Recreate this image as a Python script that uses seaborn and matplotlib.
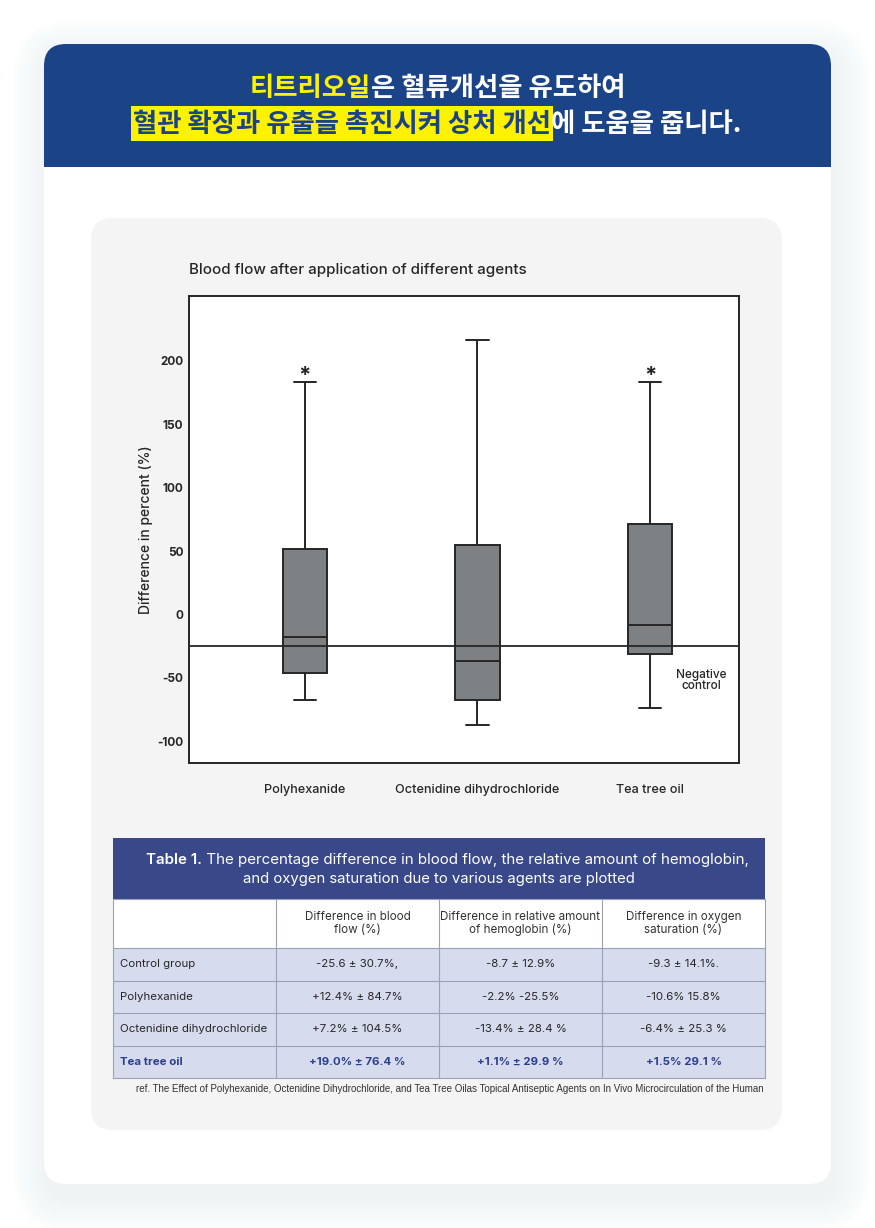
import numpy as np
import pandas as pd
import matplotlib.pyplot as plt
import seaborn as sns
from matplotlib.patches import FancyBboxPatch, Rectangle

# headline pieces: (text, colour, highlight colour)
headline_top = [("티트리오일", "#fff200", None), ("은 혈류개선을 유도하여", "#ffffff", None)]
headline_bottom = [("혈관 확장과 유출을 촉진시켜 상처 개선", "#1a4388", "#fff200"),
                   ("에 도움을 줍니다.", "#ffffff", None)]

# box plot values
agents = ["Polyhexanide", "Octenidine dihydrochloride", "Tea tree oil"]
whisker_low = [-67, -87, -74]
q1 = [-46, -67, -31]
median = [-18, -37, -8]
q3 = [52, 55, 71]
whisker_high = [183, 216, 183]
significant = [True, False, True]
negative_control = -25
y_ticks = [-100, -50, 0, 50, 100, 150, 200]

# table
table_title_bold = "Table 1."
table_title_rest = " The percentage difference in blood flow, the relative amount of hemoglobin,"
table_title_second = "and oxygen saturation due to various agents are plotted"
table_columns = ["Difference in blood\nflow (%)",
                 "Difference in relative amount\nof hemoglobin (%)",
                 "Difference in oxygen\nsaturation (%)"]
table_rows = ["Control group", "Polyhexanide", "Octenidine dihydrochloride", "Tea tree oil"]
blood_flow = ["-25.6 ± 30.7%,", "+12.4% ± 84.7%", "+7.2% ± 104.5%", "+19.0% ± 76.4 %"]
hemoglobin = ["-8.7 ± 12.9%", "-2.2% -25.5%", "-13.4% ± 28.4 %", "+1.1% ± 29.9 %"]
oxygen = ["-9.3 ± 14.1%.", "-10.6% 15.8%", "-6.4% ± 25.3 %", "+1.5% 29.1 %"]
reference = ("ref. The Effect of Polyhexanide, Octenidine Dihydrochloride, and Tea Tree Oilas "
             "Topical Antiseptic Agents on In Vivo Microcirculation of the Human")

NAVY = '#1a4388'
INK = '#262626'

sns.set_theme(style="white")
plt.rcParams['font.family'] = ['Inter', 'DejaVu Sans']
plt.rcParams['axes.unicode_minus'] = False

fig = plt.figure(figsize=(8.75, 12.28), dpi=100)
fig.patch.set_facecolor('#ffffff')
renderer = fig.canvas.get_renderer()

# full-figure axes in pixel units for the card layout
bg = fig.add_axes([0, 0, 1, 1], zorder=0)
bg.set_xlim(0, 875)
bg.set_ylim(1228, 0)
bg.axis('off')

# soft shadow
for i in range(12):
    s = 3 * (i + 1)
    bg.add_patch(FancyBboxPatch((44 - s + 4, 44 - s + 12), 787 + 2 * s, 1140 + 2 * s,
                                boxstyle=f"round,pad=0,rounding_size={22 + s}",
                                fc='#c6cee2', ec='none', alpha=0.018, zorder=0))

bg.add_patch(FancyBboxPatch((44, 44), 787, 1140, boxstyle="round,pad=0,rounding_size=22",
                            fc='white', ec='none', zorder=1))
bg.add_patch(FancyBboxPatch((44, 44), 787, 123, boxstyle="round,pad=0,rounding_size=22",
                            fc=NAVY, ec='none', zorder=2))
bg.add_patch(Rectangle((44, 110), 787, 57, fc=NAVY, ec='none', zorder=2))
bg.add_patch(FancyBboxPatch((91, 218), 691, 912, boxstyle="round,pad=0,rounding_size=22",
                            fc='#f4f4f4', ec='none', zorder=1))


def draw_line(pieces, y, size, family, weights=None, xc=437.5):
    arts = []
    for k, (s, c, hl) in enumerate(pieces):
        w = weights[k] if weights else 'black'
        arts.append(bg.text(0, y, s, color=c, fontsize=size, fontweight=w, family=family,
                            ha='left', va='center', zorder=6))
    widths = [a.get_window_extent(renderer).width for a in arts]
    x = xc - sum(widths) / 2
    for a, wd, (s, c, hl) in zip(arts, widths, pieces):
        a.set_x(x)
        if hl:
            bg.add_patch(Rectangle((x - 2, y - 18), wd + 4, 35, fc=hl, ec='none', zorder=5))
        x += wd


kr = ['Noto Sans CJK KR', 'DejaVu Sans']
draw_line(headline_top, 88, 19, kr)
draw_line(headline_bottom, 124, 19, kr)

# ---- box plot ----
ax = fig.add_axes([189 / 875, 1 - 763 / 1228, 550 / 875, 467 / 1228], zorder=3)
ax.set_facecolor('white')
df = pd.DataFrame({
    "agent": np.repeat(agents, 5),
    "value": np.column_stack([whisker_low, q1, median, q3, whisker_high]).ravel(),
})
sns.boxplot(data=df, x="agent", y="value", order=agents, whis=(0, 100), width=0.26,
            color='#7e8184', saturation=1, linecolor=INK, linewidth=1.4,
            showfliers=False, ax=ax)
ax.axhline(negative_control, color=INK, lw=1.3, zorder=5)
for i, sig in enumerate(significant):
    if sig:
        ax.text(i, whisker_high[i] - 3, "*", ha='center', va='bottom', fontsize=16,
                fontweight='bold', color=INK)
ax.text(2.296, -52, "Negative\ncontrol", ha='center', va='center', fontsize=8.5,
        fontweight='medium', color=INK, linespacing=0.9)

ax.set_xlim(-0.672, 2.516)
ax.set_ylim(-117, 251)
ax.set_yticks(y_ticks)
ax.set_xlabel('')
ax.set_ylabel('Difference in percent (%)', fontsize=10, fontweight='medium', color=INK, labelpad=3)
ax.set_title('Blood flow after application of different agents', loc='left', pad=16,
             fontsize=10.9, fontweight='medium', color=INK)
ax.tick_params(axis='y', length=0, pad=4, labelsize=8.5, labelcolor=INK)
ax.tick_params(axis='x', length=4, width=1.2, color=INK, direction='out', pad=11,
               labelsize=9.1, labelcolor=INK)
for lab in ax.get_xticklabels():
    lab.set_fontweight('medium')
for lab in ax.get_yticklabels():
    lab.set_fontweight('bold')
for sp in ax.spines.values():
    sp.set_color(INK)
    sp.set_linewidth(1.4)

# ---- table ----
col_edges = [113, 276, 439, 602, 765]
band_top, band_bottom, head_bottom = 838, 899, 948
row_h = 32.5
TABLE_BLUE = '#384889'
ROW_FILL = '#d6dcee'
GRID = '#9ba1b6'

bg.add_patch(Rectangle((113, band_top), 652, band_bottom - band_top, fc=TABLE_BLUE, ec='none', zorder=3))
bg.add_patch(Rectangle((113, band_bottom), 652, head_bottom - band_bottom, fc='white', ec='none', zorder=3))
n_rows = len(table_rows)
bg.add_patch(Rectangle((113, head_bottom), 652, row_h * n_rows, fc=ROW_FILL, ec='none', zorder=3))

draw_line([(table_title_bold, 'white', None), (table_title_rest, 'white', None)], 860, 10.9,
          ['Inter', 'DejaVu Sans'], weights=['semibold', 'normal'], xc=447)
bg.text(439, 879, table_title_second, color='white', fontsize=10.7, ha='center', va='center', zorder=6)

table_bottom = head_bottom + row_h * n_rows
for x in col_edges:
    bg.plot([x, x], [band_bottom, table_bottom], color=GRID, lw=0.8, zorder=4)
for y in [band_bottom, head_bottom] + [head_bottom + row_h * (r + 1) for r in range(n_rows)]:
    bg.plot([113, 765], [y, y], color=GRID, lw=0.8, zorder=4)

for c, name in enumerate(table_columns):
    xc = (col_edges[c + 1] + col_edges[c + 2]) / 2
    bg.text(xc, (band_bottom + head_bottom) / 2, name, ha='center', va='center', fontsize=8.4,
            color='#333333', linespacing=1.05, zorder=6)

for r, label in enumerate(table_rows):
    yc = head_bottom + row_h * (r + 0.5)
    last = r == n_rows - 1
    color = '#2c3f8f' if last else '#262626'
    weight = 'bold' if last else 'normal'
    bg.text(120, yc, label, ha='left', va='center', fontsize=8.25, color=color, fontweight=weight, zorder=6)
    for c, values in enumerate([blood_flow, hemoglobin, oxygen]):
        xc = (col_edges[c + 1] + col_edges[c + 2]) / 2
        bg.text(xc, yc, values[r], ha='center', va='center', fontsize=8.25, color=color,
                fontweight=weight, zorder=6)

bg.text(764, 1089, reference, ha='right', va='center', fontsize=7.0,
        family=['Liberation Sans', 'DejaVu Sans'], color='#333333', zorder=6)

fig.savefig('out.png', dpi=100, facecolor=fig.get_facecolor())
